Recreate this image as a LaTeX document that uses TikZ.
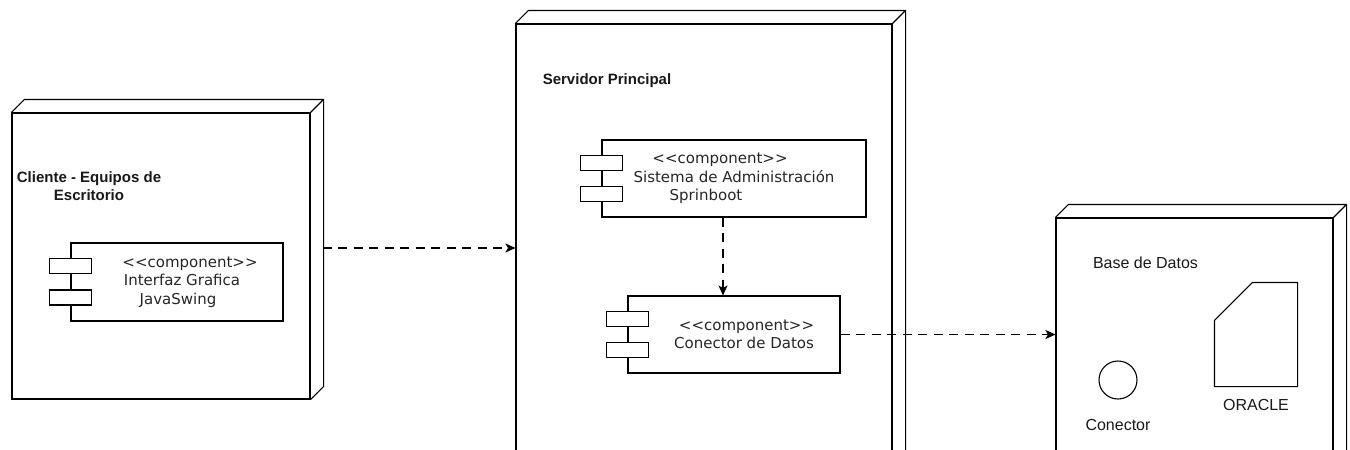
\documentclass[tikz,border=0pt]{standalone}
\usepackage{fontspec}
\setmainfont{Liberation Sans}
\newfontfamily\compfont{DejaVu Sans}
\usetikzlibrary{arrows.meta,calc}
\begin{document}
\begin{tikzpicture}[x=1pt,y=-1pt, line width=1.1pt,
  nodebox/.style={draw, fill=white, inner sep=0pt, rectangle},
  comp/.style={draw, fill=white, inner sep=0pt, align=center, font=\compfont\fontsize{15}{18.5}\selectfont, text=black!85},
  port/.style={draw, fill=white, minimum width=42pt, minimum height=15pt, inner sep=0pt},
  lbl/.style={font=\bfseries\fontsize{15}{18}\selectfont, align=center, inner sep=0pt, text=black!90},
  plainlbl/.style={font=\fontsize{16}{19}\selectfont, align=center, inner sep=0pt, text=black!90},
  dep/.style={dash pattern=on 9pt off 6.5pt, -{Stealth[length=10pt,width=9pt,inset=2.5pt]}}]
\useasboundingbox (0,0) rectangle (1350,450);
\clip (0,0) rectangle (1350,450);

% ---- 3D nodes
\node[nodebox, minimum width=298pt, minimum height=286pt] (client) at (161,256) {};
\draw (client.north west) -- ++(13,-13) -- ($(client.north east)+(13,-13)$) -- ($(client.south east)+(13,-13)$) -- (client.south east)
      (client.north east) -- ++(13,-13);

\node[nodebox, minimum width=376pt, minimum height=476pt] (server) at (704,262) {};
\draw (server.north west) -- ++(13,-13) -- ($(server.north east)+(13,-13)$) -- ($(server.south east)+(13,-13)$) -- (server.south east)
      (server.north east) -- ++(13,-13);

\node[nodebox, minimum width=277pt, minimum height=282pt] (base) at (1194.5,359) {};
\draw (base.north west) -- ++(13,-13) -- ($(base.north east)+(13,-13)$) -- ($(base.south east)+(13,-13)$) -- (base.south east)
      (base.north east) -- ++(13,-13);

% ---- node labels
\node[lbl] (clientl) at (89,186) {Cliente - Equipos de\\Escritorio};
\node[lbl] (serverl) at (607,81) {Servidor Principal};
\node[plainlbl] (basel) at (1145.5,263) {Base de Datos};

% ---- components
\node[comp, minimum width=212pt, minimum height=78pt] (gui) at (177,282)
  {\hspace*{26pt}<<component>>\\\hspace*{10pt}Interfaz Grafica\\\hspace*{2pt}JavaSwing};
\node[port] (guip1) at ([yshift=-23.5pt]gui.north west) {};
\node[port] (guip2) at ([yshift=-55pt]gui.north west) {};

\node[comp, minimum width=264pt, minimum height=77pt] (sys) at (734,178.5)
  {<<component>>\hspace*{28pt}\\Sistema de Administración\\Sprinboot\hspace*{56pt}};
\node[port] (sysp1) at ([yshift=-23.5pt]sys.north west) {};
\node[port] (sysp2) at ([yshift=-54.5pt]sys.north west) {};

\node[comp, minimum width=212pt, minimum height=77pt] (con) at (734,334.5)
  {\hspace*{25pt}<<component>>\\\hspace*{20pt}Conector de Datos};
\node[port] (conp1) at ([yshift=-23.5pt]con.north west) {};
\node[port] (conp2) at ([yshift=-54.5pt]con.north west) {};

% ---- database contents
\node[draw, circle, minimum size=38pt, inner sep=0pt] (conn) at (1118,380) {};
\node[plainlbl] (connl) at (1118,425) {Conector};
\node[minimum width=82pt, minimum height=103pt, inner sep=0pt] (oracle) at (1256,334.5) {};
\draw (oracle.south west) -- ([yshift=-38pt]oracle.north west) -- ([xshift=38pt]oracle.north west)
      -- (oracle.north east) -- (oracle.south east) -- cycle;
\node[plainlbl] (oraclel) at (1256,405) {ORACLE};

% ---- dependencies
\draw[dep] ([xshift=12pt,yshift=8pt]client.east) coordinate (a1) -- (a1 -| server.west);
\draw[dep] ([xshift=-11pt]sys.south) coordinate (a2) -- (a2 |- con.north);
\draw[dep] (con.east) -- (con.east -| base.west);
\end{tikzpicture}
\end{document}
